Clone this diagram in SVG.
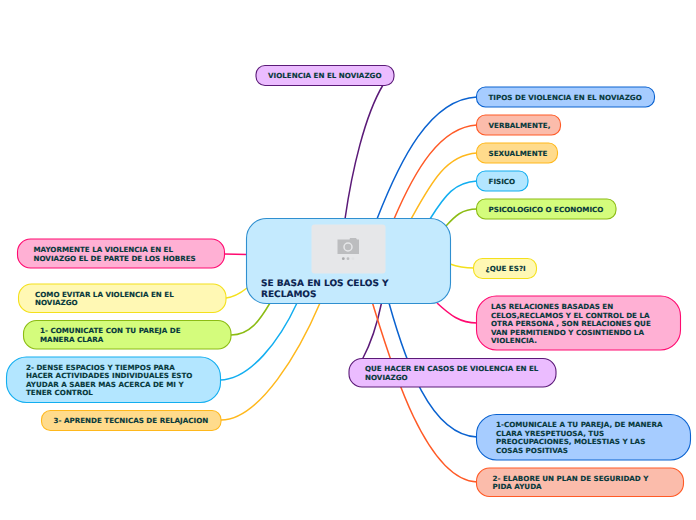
<svg xmlns="http://www.w3.org/2000/svg" width="696" height="520" viewBox="0 0 696 520">
<style>
text{font-family:"DejaVu Sans",Verdana,sans-serif;font-weight:700;font-size:7.15px;fill:#07393c;stroke:#07393c;stroke-width:.12;text-rendering:geometricPrecision}
#center text{font-size:9px;fill:#0b2350;stroke:#0b2350}
.c path{fill:none;stroke-width:1.5}
rect{stroke-width:1.1}
.purple{fill:#ebbcff;stroke:#5b1a78}
.blue{fill:#a6ccff;stroke:#0a62d0}
.orange{fill:#fbbcab;stroke:#ff5a26}
.amber{fill:#ffdb8c;stroke:#ffb81c}
.sky{fill:#b3e6ff;stroke:#12aef0}
.green{fill:#d4fc7c;stroke:#8cbc14}
.yellow{fill:#fff8b4;stroke:#f4e01c}
.pink{fill:#ffb0d4;stroke:#ff0a70}
</style>
<g id="connectors" class="c">
<path stroke="#5b1a78" d="M345 219C352 170 365 115 383 85"/>
<path stroke="#0a62d0" d="M377 219C400 160 430 99 477 97"/>
<path stroke="#ff5a26" d="M394 219C415 170 440 127 477 125"/>
<path stroke="#ffb81c" d="M411 219C430 185 445 155 477 153"/>
<path stroke="#12aef0" d="M430 219C445 195 455 182 477 181"/>
<path stroke="#8cbc14" d="M446 226C455 216 462 209 477 209"/>
<path stroke="#f4e01c" d="M450 264C458 267 465 268 474 268"/>
<path stroke="#ff0a70" d="M437 303C450 315 460 323 477 323"/>
<path stroke="#5b1a78" d="M381.500 303C377 325 370 345 362.500 359"/>
<path stroke="#0a62d0" d="M389 303C405 360 430 435 477 437"/>
<path stroke="#ff5a26" d="M372.500 303C390 360 425 480 477 482"/>
<path stroke="#ff0a70" d="M224 254L247 254.500"/>
<path stroke="#f4e01c" d="M226 298C235 297 242 292 247 288"/>
<path stroke="#8cbc14" d="M231 335C250 335 260 320 270 303"/>
<path stroke="#12aef0" d="M220 380C250 380 280 340 297 303"/>
<path stroke="#ffb81c" d="M221 420C260 420 300 350 320 303"/>
</g>
<g id="center">
<rect x="246.500" y="218.500" width="204" height="85" rx="20" fill="#c4eafe" stroke="#2f8fd0"/>
<rect x="311.500" y="224.500" width="74" height="49" rx="3" fill="#e6e7e9"/>
<path d="M337.500 239.500h12l.5-1.500h6l1 1.500h2v14.500h-21.500z" fill="#bcbdbf"/>
<circle cx="348" cy="247" r="4" fill="#bcbdbf" stroke="#e6e7e9" stroke-width="1.500"/>
<circle cx="343.300" cy="258.700" r="1.400" fill="#a9aaac"/><circle cx="348" cy="258.700" r="1.400" fill="#bcbdbf"/><circle cx="353" cy="258.700" r="1.400" fill="#e0e1e3"/>
<text x="261" y="285.500">SE BASA EN LOS CELOS Y</text>
<text x="261" y="296.500">RECLAMOS</text>
</g>
<g id="n1"><rect class="purple" x="256" y="65.500" width="138" height="20" rx="9"/><text x="268" y="78">VIOLENCIA EN EL NOVIAZGO</text></g>
<g id="n2"><rect class="blue" x="476.500" y="87" width="178" height="20" rx="9"/><text x="488.500" y="100">TIPOS DE VIOLENCIA EN EL NOVIAZGO</text></g>
<g id="n3"><rect class="orange" x="476.500" y="115" width="84" height="20" rx="9"/><text x="488.500" y="128">VERBALMENTE,</text></g>
<g id="n4"><rect class="amber" x="476.500" y="143" width="81" height="20" rx="9"/><text x="488.500" y="156">SEXUALMENTE</text></g>
<g id="n5"><rect class="sky" x="476.500" y="171" width="51.500" height="20" rx="9"/><text x="488.500" y="184">FISICO</text></g>
<g id="n6"><rect class="green" x="476.500" y="199" width="139.500" height="20" rx="9"/><text x="488.500" y="212">PSICOLOGICO O ECONOMICO</text></g>
<g id="n7"><rect class="yellow" x="473.500" y="258.500" width="63" height="20" rx="9"/><text x="485.500" y="271">¿QUE ES?I</text></g>
<g id="n8"><rect class="pink" x="476.500" y="296" width="204" height="54" rx="20"/><text x="491" y="309">LAS RELACIONES BASADAS EN</text><text x="491" y="317.500">CELOS,RECLAMOS Y EL CONTROL DE LA</text><text x="491" y="326">OTRA PERSONA , SON RELACIONES QUE</text><text x="491" y="334.500">VAN PERMITIENDO Y COSINTIENDO LA</text><text x="491" y="343">VIOLENCIA.</text></g>
<g id="n9"><rect class="purple" x="349" y="358.500" width="207" height="28.500" rx="13"/><text x="365" y="371">QUE HACER EN CASOS DE VIOLENCIA EN EL</text><text x="365" y="380">NOVIAZGO</text></g>
<g id="n10"><rect class="blue" x="476.500" y="414.500" width="214" height="45.500" rx="20"/><text x="496" y="427">1-COMUNICALE A TU PAREJA, DE MANERA</text><text x="496" y="436">CLARA YRESPETUOSA, TUS</text><text x="496" y="444">PREOCUPACIONES, MOLESTIAS Y LAS</text><text x="496" y="453">COSAS POSITIVAS</text></g>
<g id="n11"><rect class="orange" x="476.500" y="468" width="207" height="28.500" rx="13"/><text x="492.500" y="481">2- ELABORE UN PLAN DE SEGURIDAD Y</text><text x="492.500" y="489">PIDA AYUDA</text></g>
<g id="n12"><rect class="pink" x="17.500" y="239" width="207" height="29" rx="13"/><text x="33.500" y="252">MAYORMENTE LA VIOLENCIA EN EL</text><text x="33.500" y="261">NOVIAZGO EL DE PARTE DE LOS HOBRES</text></g>
<g id="n13"><rect class="yellow" x="18.500" y="284" width="207.500" height="28.500" rx="13"/><text x="35" y="297">COMO EVITAR LA VIOLENCIA EN EL</text><text x="35" y="305">NOVIAZGO</text></g>
<g id="n14"><rect class="green" x="23.500" y="320.500" width="207.500" height="28.500" rx="13"/><text x="40" y="333">1- COMUNICATE CON TU PAREJA DE</text><text x="40" y="342">MANERA CLARA</text></g>
<g id="n15"><rect class="sky" x="6.500" y="357" width="214" height="45.500" rx="20"/><text x="26" y="370">2- DENSE ESPACIOS Y TIEMPOS PARA</text><text x="26" y="378">HACER ACTIVIDADES INDIVIDUALES ESTO</text><text x="26" y="387">AYUDAR A SABER MAS ACERCA DE MI Y</text><text x="26" y="395">TENER CONTROL</text></g>
<g id="n16"><rect class="amber" x="41.500" y="410.500" width="179.500" height="20" rx="9"/><text x="53.500" y="423">3- APRENDE TECNICAS DE RELAJACION</text></g>
</svg>
